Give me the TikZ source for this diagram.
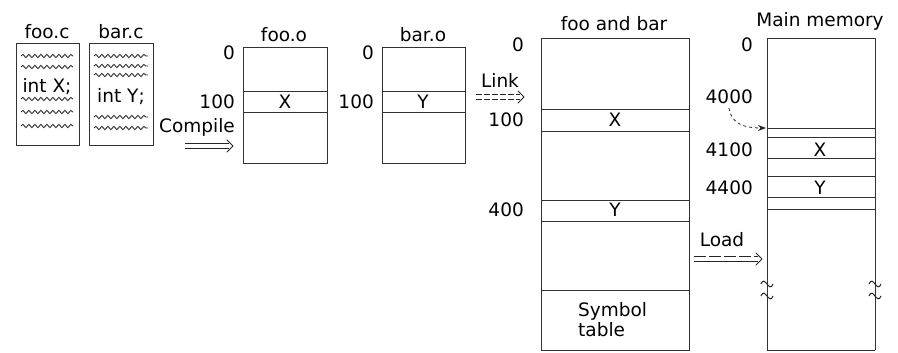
\documentclass[tikz,border=0pt]{standalone}
\usepackage{fontspec}
\setmainfont{DejaVu Sans}
\usetikzlibrary{arrows.meta,decorations.pathmorphing}
\begin{document}
\begin{tikzpicture}[x=1pt,y=-1pt,
  box/.style={draw=black!80,line width=0.9pt},
  sep/.style={draw=black!80,line width=0.9pt},
  lbl/.style={font=\fontsize{18.5}{20}\selectfont,inner sep=0pt},
  rlbl/.style={lbl,anchor=east},
  wave/.style={draw=black!80,line width=0.9pt,decorate,decoration={snake,segment length=6pt,amplitude=1.6pt}},
  shaft/.style={draw=black!85,line width=0.9pt},
  chev/.style={draw=black!85,line width=0.9pt,line join=round,line cap=round},
  tip/.style={draw=black!85,line width=0.8pt,dashed,-{Stealth[length=8pt,width=6pt]}}]
\useasboundingbox (0,0) rectangle (898,353);
% source files
\draw[box] (16,43) rectangle (79,145);
\draw[box] (89,43) rectangle (153,145);
\node[lbl] (fooc) at (47,32) {foo.c};
\node[lbl] (barc) at (121,32) {bar.c};
\foreach \y in {56,67,99,112,126} \draw[wave] (21,\y) -- (73,\y);
\foreach \y in {56,66,75,117,128} \draw[wave] (94,\y) -- (148,\y);
\node[lbl] (intx) at (47,87) {int X;};
\node[lbl] (inty) at (121,97) {int Y;};
% compile
\node[lbl] (compile) at (197,127) {Compile};
\coordinate (c1) at (185,146); \coordinate (c2) at (233,146);
\draw[shaft] ([yshift=2.2pt]c1) -- ([xshift=-4pt,yshift=2.2pt]c2);
\draw[shaft] ([yshift=-2.2pt]c1) -- ([xshift=-4pt,yshift=-2.2pt]c2);
\draw[chev] ([xshift=-6pt,yshift=6pt]c2) -- (c2) -- ([xshift=-6pt,yshift=-6pt]c2);
% foo.o
\node[lbl] (fooo) at (284,35) {foo.o};
\draw[box] (243,47) rectangle (327,163);
\draw[sep] (243,91) -- (327,91); \draw[sep] (243,112) -- (327,112);
\node[rlbl] (f0) at (235,53) {0};
\node[rlbl] (f100) at (235,102) {100};
\node[lbl] (fx) at (285,102) {X};
% bar.o
\node[lbl] (baro) at (423,35) {bar.o};
\draw[box] (382,47) rectangle (465,163);
\draw[sep] (382,91) -- (465,91); \draw[sep] (382,112) -- (465,112);
\node[rlbl] (b0) at (374,53) {0};
\node[rlbl] (b100) at (374,102) {100};
\node[lbl] (by) at (423,102) {Y};
% link
\node[lbl] (link) at (500,80) {Link};
\coordinate (l1) at (476,97); \coordinate (l2) at (524,97);
\draw[shaft,dashed,dash pattern=on 6pt off 2pt] ([yshift=2.2pt]l1) -- ([xshift=-4pt,yshift=2.2pt]l2);
\draw[shaft,dashed,dash pattern=on 6pt off 2pt] ([yshift=-2.2pt]l1) -- ([xshift=-4pt,yshift=-2.2pt]l2);
\draw[chev] ([xshift=-6pt,yshift=6pt]l2) -- (l2) -- ([xshift=-6pt,yshift=-6pt]l2);
% foo and bar
\node[lbl] (fab) at (614,24) {foo and bar};
\draw[box] (541,38) rectangle (689,350);
\foreach \y in {109,131,200,221,290} \draw[sep] (541,\y) -- (689,\y);
\node[rlbl] (a0) at (524,45) {0};
\node[rlbl] (a100) at (524,120) {100};
\node[rlbl] (a400) at (524,210) {400};
\node[lbl] (ax) at (615,120) {X};
\node[lbl] (ay) at (615,210) {Y};
\node[lbl,align=left,anchor=west] (sym) at (578,320) {Symbol\\table};
% load
\node[lbl] (load) at (722,240) {Load};
\coordinate (d1) at (694,259); \coordinate (d2) at (762,259);
\draw[shaft,dashed,dash pattern=on 12pt off 3pt] ([yshift=2.2pt]d1) -- ([xshift=-4pt,yshift=2.2pt]d2);
\draw[shaft] ([yshift=-2.2pt]d1) -- ([xshift=-4pt,yshift=-2.2pt]d2);
\draw[chev] ([xshift=-6pt,yshift=6pt]d2) -- (d2) -- ([xshift=-6pt,yshift=-6pt]d2);
% main memory
\node[lbl] (mm) at (820,21) {Main memory};
\draw[box] (767,350) -- (767,38) -- (875,38) -- (875,350);
\draw[box] (767,350) -- (875,350);
\foreach \y in {128,137,158,176,197,209} \draw[sep] (767,\y) -- (875,\y);
\node[rlbl] (m0) at (753,45) {0};
\node[rlbl] (m4000) at (753,97) {4000};
\node[rlbl] (m4100) at (753,150) {4100};
\node[rlbl] (m4400) at (753,188) {4400};
\node[lbl] (mx) at (820,150) {X};
\node[lbl] (my) at (820,188) {Y};
\coordinate (p1) at (729,108); \coordinate (p2) at (766,128);
\draw[tip] (p1) .. controls (731,124) and (745,128) .. (p2);
% break marks
\foreach \x in {767,875}{
  \draw[line width=1pt,black!85] (\x-6,284) .. controls (\x-2,274) and (\x+2,294) .. (\x+6,284);
  \draw[line width=1pt,black!85] (\x-6,296) .. controls (\x-2,286) and (\x+2,306) .. (\x+6,296);
}
\end{tikzpicture}
\end{document}
